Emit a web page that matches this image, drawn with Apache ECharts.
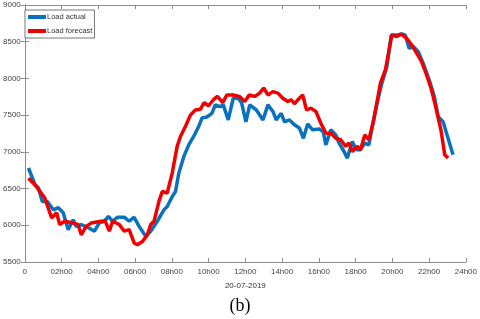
<!DOCTYPE html>
<html><head><meta charset="utf-8">
<script src="https://cdn.jsdelivr.net/npm/echarts@6/dist/echarts.min.js"></script>
<style>html,body{margin:0;padding:0;background:#fff}#c{width:480px;height:319px}</style>
</head><body><div id="c"></div>
<script>
// Hours of day for each reading
const actualHours = [0.20,0.56,0.74,0.95,1.24,1.55,1.82,2.09,2.36,2.63,2.80,3.07,3.44,3.79,4.06,4.33,4.55,4.78,5.05,5.41,5.68,5.95,6.22,6.58,6.85,7.21,7.57,7.75,8.02,8.20,8.38,8.65,8.92,9.19,9.46,9.64,9.91,10.18,10.36,10.63,10.80,11.07,11.34,11.61,11.80,12.03,12.24,12.60,12.96,13.23,13.50,13.68,13.95,14.13,14.40,14.67,14.94,15.16,15.39,15.66,16.02,16.24,16.38,16.65,16.92,17.10,17.37,17.55,17.82,18.03,18.27,18.50,18.72,19.08,19.43,19.70,19.94,20.22,20.51,20.70,20.91,21.14,21.41,21.68,22.04,22.28,22.49,22.76,23.03,23.30];
const actualLoad = [6780,6550,6510,6325,6320,6210,6240,6170,5940,6075,5985,6010,5970,5920,6035,6055,6120,6055,6110,6110,6055,6110,5985,5850,5920,6055,6210,6255,6390,6460,6710,6935,7095,7210,7345,7460,7475,7525,7640,7615,7640,7435,7730,7730,7665,7410,7640,7570,7435,7640,7550,7435,7525,7410,7435,7370,7325,7185,7380,7300,7310,7275,7095,7300,7230,7120,7005,6915,7140,7030,7030,7120,7095,7570,7935,8160,8590,8590,8605,8590,8410,8435,8365,8205,7955,7755,7480,7410,7185,6960];
const forecastHours = [0.20,0.56,1.09,1.46,1.73,1.90,2.17,2.63,2.90,3.07,3.34,3.61,4.15,4.37,4.60,4.78,5.14,5.41,5.68,5.95,6.13,6.40,6.67,6.85,7.03,7.30,7.48,7.75,8.02,8.29,8.47,8.74,9.01,9.28,9.55,9.76,9.99,10.26,10.48,10.77,10.99,11.34,11.70,11.97,12.21,12.51,12.78,13.00,13.23,13.50,13.77,14.04,14.31,14.49,14.67,14.94,15.12,15.33,15.57,15.84,16.11,16.38,16.65,16.92,17.19,17.46,17.64,17.82,18.09,18.27,18.50,18.72,18.99,19.35,19.62,19.97,20.24,20.48,20.78,21.05,21.32,21.59,21.86,22.13,22.40,22.64,22.85,23.03];
const forecastLoad = [6640,6550,6370,6100,6170,6010,6055,6030,6010,5870,5985,6030,6055,6060,5920,6055,6010,5920,5940,5760,5735,5780,5870,6010,6055,6325,6460,6440,6710,7075,7210,7345,7500,7570,7580,7670,7625,7710,7755,7670,7775,7775,7750,7685,7775,7755,7800,7870,7775,7820,7800,7730,7685,7710,7655,7730,7775,7570,7595,7550,7390,7255,7255,7185,7165,7075,7120,7005,7075,7030,7230,7165,7435,7935,8115,8590,8570,8605,8545,8455,8345,8230,8050,7845,7570,7300,6960,6915];
const xTickLabels = ['0','02h00','04h00','06h00','08h00','10h00','12h00','14h00','16h00','18h00','20h00','22h00','24h00'];
const seriesNames = ['Load actual','Load forecast'];
const dateLabel = '20-07-2019';
const panelLabel = '(b)';

const pair = (h, v) => h.map((x, i) => [x, v[i]]);
const axisCol = '#8c8c8c';
const labelStyle = {color:'#444', fontSize:8, fontFamily:'Liberation Sans'};
const chart = echarts.init(document.getElementById('c'), null, {renderer:'canvas'});
chart.setOption({
  animation:false,
  backgroundColor:'#fff',
  grid:{left:23, right:12, top:5, bottom:57, containLabel:false},
  title:{text:panelLabel, left:'center', top:297, padding:0,
    textStyle:{fontFamily:'Liberation Serif', fontSize:18, fontWeight:'normal', color:'#000'}},
  legend:{data:seriesNames, orient:'vertical', left:25, top:10, padding:[3,2,3,3],
    itemGap:6, itemWidth:18, itemHeight:4, icon:'rect',
    borderColor:'#555', borderWidth:0.8, backgroundColor:'#fff',
    textStyle:{fontSize:7.5, color:'#333', fontFamily:'Liberation Sans', padding:[0,0,0,-4]}},
  xAxis:[{type:'value', min:0, max:24, interval:2, position:'bottom',
    name:dateLabel, nameLocation:'middle', nameGap:20,
    nameTextStyle:{color:'#333', fontSize:8, fontFamily:'Liberation Sans'},
    axisLine:{lineStyle:{color:axisCol, width:1}},
    axisTick:{inside:true, length:4, lineStyle:{color:axisCol}},
    axisLabel:Object.assign({margin:6, formatter:(v)=>xTickLabels[Math.round(v/2)]}, labelStyle),
    splitLine:{show:false}},
    {type:'value', min:0, max:24, interval:2, position:'top',
    axisLine:{lineStyle:{color:axisCol}}, axisTick:{inside:true, length:4, lineStyle:{color:axisCol}},
    axisLabel:{show:false}, splitLine:{show:false}}],
  yAxis:[{type:'value', min:5500, max:9000, interval:500, position:'left',
    axisLine:{show:true, lineStyle:{color:axisCol}},
    axisTick:{show:true, inside:true, length:4, lineStyle:{color:axisCol}},
    axisLabel:Object.assign({margin:4, formatter:(v)=>String(v)}, labelStyle), splitLine:{show:false}},
    {type:'value', min:5500, max:9000, interval:500, position:'right',
    axisLine:{show:true, lineStyle:{color:axisCol}},
    axisTick:{show:true, inside:true, length:4, lineStyle:{color:axisCol}},
    axisLabel:{show:false}, splitLine:{show:false}}],
  series:[
    {name:seriesNames[0], type:'line', data:pair(actualHours, actualLoad), showSymbol:false,
      color:'#0a72bd', lineStyle:{width:3.5, color:'#0a72bd'}, z:2},
    {name:seriesNames[1], type:'line', data:pair(forecastHours, forecastLoad), showSymbol:false,
      color:'#f00000', lineStyle:{width:3.5, color:'#f00000'}, z:3}
  ]
});
</script></body></html>
